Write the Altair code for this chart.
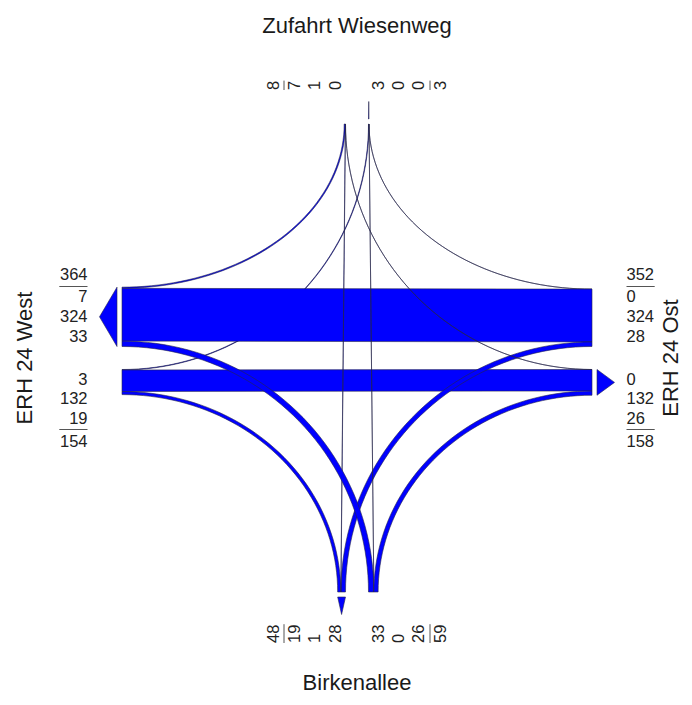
import numpy as np
import pandas as pd
import altair as alt

# ---------------- data ----------------
arm_code = ["N", "E", "S", "W"]
arm_label = ["Zufahrt Wiesenweg", "ERH 24 Ost", "Birkenallee", "ERH 24 West"]

# turning movements (origin -> destination), in drawing order
flow_from = ["W", "W", "W", "E", "E", "E", "N", "N", "N", "S", "S", "S"]
flow_to   = ["N", "E", "S", "N", "W", "S", "W", "S", "E", "W", "N", "E"]
volume    = [3, 132, 19, 0, 324, 28, 7, 1, 0, 33, 0, 26]

# ---------------- layout constants ----------------
K = 0.163          # pixel width per vehicle
G = 11.5           # half gap between the two directions of an arm
ARM = {"W": -235.0, "E": 235.0, "N": -234.0, "S": 234.0}
HRANK = {"N": 0, "W": 1, "E": 1, "S": 2}   # order along a horizontal arm (top->bottom)
VRANK = {"W": 0, "N": 1, "S": 1, "E": 2}   # order along a vertical arm (left->right)
n = len(volume)


def side(arm, direction):
    if direction == "in":
        idx = [i for i in range(n) if flow_from[i] == arm]
        partner = {i: flow_to[i] for i in idx}
    else:
        idx = [i for i in range(n) if flow_to[i] == arm]
        partner = {i: flow_from[i] for i in idx}
    rank = HRANK if arm in "WE" else VRANK
    idx.sort(key=lambda i: rank[partner[i]])
    total = sum(volume[i] for i in idx)
    neg = (arm in "EN") == (direction == "in")
    pos = -G - total * K if neg else G
    spans = {}
    for i in idx:
        spans[i] = (pos, pos + volume[i] * K)
        pos += volume[i] * K
    lo = -G - total * K if neg else G
    return idx, total, neg, spans, (lo, lo + total * K)


sides = {(a, d): side(a, d) for a in arm_code for d in ("in", "out")}


def pt(arm, along):
    return (ARM[arm], along) if arm in "WE" else (along, ARM[arm])


rows = []
T = np.linspace(0, np.pi / 2, 48)
for i in range(n):
    o, d = flow_from[i], flow_to[i]
    so = sides[(o, "in")][3][i]
    sd = sides[(d, "out")][3][i]
    key = f"{i:02d}_{o}{d}"
    if (o in "WE") == (d in "WE"):
        pts = [pt(o, so[0]), pt(d, sd[0]), pt(d, sd[1]), pt(o, so[1])]
    else:
        if o in "WE":
            h, hs, v, vs = o, so, d, sd
        else:
            h, hs, v, vs = d, sd, o, so
        xh, yv = ARM[h], ARM[v]
        ys_ = sorted(hs, key=lambda y: abs(y - yv))
        xs_ = sorted(vs, key=lambda x: abs(x - xh))
        sx = np.sign(np.mean(vs) - xh)
        sy = np.sign(np.mean(hs) - yv)
        edges = []
        for j in range(2):
            rx, ry = abs(xs_[j] - xh), abs(ys_[j] - yv)
            edges.append([(xh + sx * rx * np.sin(t), yv + sy * ry * np.cos(t)) for t in T])
        pts = edges[0] + edges[1][::-1]
    for k, (x, y) in enumerate(pts):
        rows.append({"key": key, "i": k, "x": x, "y": y})
poly_df = pd.DataFrame(rows)

# arrows on outgoing sides
arows = []
for a in arm_code:
    lo, hi = sides[(a, "out")][4]
    mid = (lo + hi) / 2
    if a == "W":
        b = ARM[a] - 5; tri = [(b, lo), (b - 17.5, mid), (b, hi)]
    elif a == "E":
        b = ARM[a] + 5; tri = [(b, lo), (b + 17.5, mid), (b, hi)]
    elif a == "N":
        b = ARM[a] - 5; tri = [(lo, b), (mid, b - 17.5), (hi, b)]
    else:
        b = ARM[a] + 5; tri = [(lo, b), (mid, b + 17.5), (hi, b)]
    for k, (x, y) in enumerate(tri):
        arows.append({"key": "arr_" + a, "i": k, "x": x, "y": y})
arrow_df = pd.DataFrame(arows)

# number labels
HX = {"W": -269.5, "E": 269.5}
VY = {"N": -268.0, "S": 285.0}
lab_h, lab_v, rules = [], [], []
for a in arm_code:
    for d in ("in", "out"):
        idx, total, neg, spans, _ = sides[(a, d)]
        vals = [volume[i] for i in idx]
        m = len(vals)
        step = 19.6 if a in "WE" else 20.4
        sgn = -1 if neg else 1
        poss = [sgn * (21.5 + step * ((m - 1 - j) if neg else j)) for j in range(m)]
        tpos = sgn * 83.5
        lpos = sgn * (71.5 if a in "WE" else 73.0)
        w = 9.4 * max(len(str(v)) for v in vals + [total])
        entries = list(zip(vals, poss)) + [(total, tpos)]
        for v, p in entries:
            if a in "WE":
                lab_h.append({"arm": a, "t": str(v), "x": HX[a], "y": p})
            else:
                lab_v.append({"arm": a, "t": str(v), "x": p, "y": VY[a]})
        if a == "W":
            rules.append({"x": HX[a] - w, "x2": HX[a], "y": lpos, "y2": lpos})
        elif a == "E":
            rules.append({"x": HX[a], "x2": HX[a] + w, "y": lpos, "y2": lpos})
        else:
            rules.append({"x": lpos, "x2": lpos, "y": VY[a] - w, "y2": VY[a]})
lab_h = pd.DataFrame(lab_h)
lab_v = pd.DataFrame(lab_v)
rule_df = pd.DataFrame(rules)

title_h = pd.DataFrame({"t": [arm_label[0], arm_label[2]], "x": [0.0, 0.0], "y": [-325.0, 332.0]})
title_v = pd.DataFrame({"t": [arm_label[3], arm_label[1]], "x": [-332.5, 314.0], "y": [0.0, 0.0]})

# ---------------- chart ----------------
W_, H_ = 676, 689
xs = alt.Scale(domain=[-349, -349 + W_], nice=False, zero=False)
ys = alt.Scale(domain=[-350, -350 + H_], nice=False, zero=False, reverse=True)
X = lambda f="x": alt.X(f + ":Q", scale=xs, axis=None)
Y = lambda f="y": alt.Y(f + ":Q", scale=ys, axis=None)

FONT = "Liberation Sans"
fill_blue = "#0000FF"
edge = "#25254a"

flows = alt.Chart(poly_df).mark_line(
    fill=fill_blue, stroke=edge, strokeWidth=0.6, interpolate="linear-closed", strokeJoin="round"
).encode(x=X(), y=Y(), detail="key:N", order="i:Q")

arrows = alt.Chart(arrow_df).mark_line(
    fill=fill_blue, stroke=edge, strokeWidth=0.6, interpolate="linear-closed"
).encode(x=X(), y=Y(), detail="key:N", order="i:Q")

rule_layer = alt.Chart(rule_df).mark_rule(color="#555555", strokeWidth=1).encode(
    x=X(), x2="x2:Q", y=Y(), y2="y2:Q")

west_lab = alt.Chart(lab_h[lab_h.arm == "W"]).mark_text(
    align="right", baseline="middle", font=FONT, fontSize=16.5, color="#222222"
).encode(x=X(), y=Y(), text="t:N")
east_lab = alt.Chart(lab_h[lab_h.arm == "E"]).mark_text(
    align="left", baseline="middle", font=FONT, fontSize=16.5, color="#222222"
).encode(x=X(), y=Y(), text="t:N")
vert_lab = alt.Chart(lab_v).mark_text(
    align="left", baseline="middle", angle=270, font=FONT, fontSize=16.5, color="#222222"
).encode(x=X(), y=Y(), text="t:N")

th = alt.Chart(title_h).mark_text(
    align="center", baseline="alphabetic", font=FONT, fontSize=22, color="#1a1a1a"
).encode(x=X(), y=Y(), text="t:N")
tv = alt.Chart(title_v).mark_text(
    align="center", baseline="middle", angle=270, font=FONT, fontSize=22, color="#1a1a1a"
).encode(x=X(), y=Y(), text="t:N")

chart = alt.layer(flows, arrows, rule_layer, west_lab, east_lab, vert_lab, th, tv).properties(
    width=W_, height=H_, padding=0, autosize=alt.AutoSizeParams(type="none")
).configure_view(strokeWidth=0)

chart.save("out.html", embed_options={"renderer": "svg", "actions": False})
